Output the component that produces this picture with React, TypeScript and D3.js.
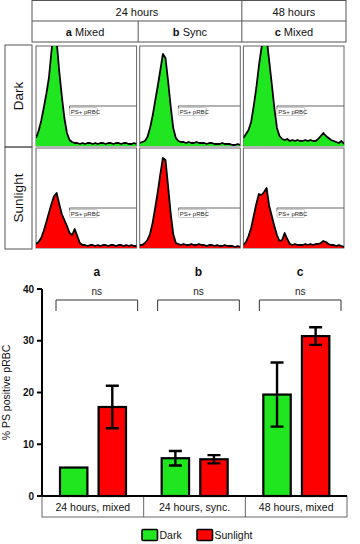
import React from 'react';
import * as d3 from 'd3';

const width = 360;
const height = 544;
const font = "'Liberation Sans', Arial, sans-serif";

// --- top panel: flow cytometry histograms ---
const timeHeaders = ['24 hours', '48 hours'];
const timeSpans = [[0, 1], [2, 2]];
const columnLetters = ['a', 'b', 'c'];
const columnNames = ['Mixed', 'Sync', 'Mixed'];
const rowNames = ['Dark', 'Sunlight'];

// counts per bin, % of panel height
const darkA = [8,15,25,38,52,68,95,115,105,75,50,28,13,6,4,3,3,2,3,2,3,3,2,3,2,3,3,2,3,3,2,3,3,2,3,3,2,2,3,2];
const darkB = [3,4,5,9,18,30,45,60,76,92,88,65,40,18,8,5,4,4,3,4,3,3,4,3,3,3,2,3,3,2,2,2,3,2,2,2,1,1,2,1];
const darkC = [8,12,16,24,40,58,80,98,110,108,85,62,38,18,10,7,6,7,5,6,5,6,5,5,6,5,6,5,5,7,10,13,10,8,6,5,4,3,5,2];
const sunA = [4,6,10,17,26,35,44,52,55,44,34,28,22,15,13,19,12,5,3,3,2,3,3,2,3,2,3,3,2,3,3,2,3,3,2,3,2,3,2,2];
const sunB = [3,3,5,8,14,25,40,56,74,90,88,62,35,14,5,4,3,4,3,3,4,3,3,4,3,3,2,3,3,2,3,2,2,3,2,2,2,1,2,1];
const sunC = [3,6,12,20,32,44,54,53,56,60,42,32,22,13,7,8,15,9,4,3,4,3,3,3,4,3,4,3,4,4,5,7,6,4,3,3,2,3,2,1];
const histRows = [[darkA, darkB, darkC], [sunA, sunB, sunC]];
const gateLabel = 'PS+ pRBC';
const gateLevel = 40;
const gateBin = [13, 15, 13];

// --- bottom panel: bar chart ---
const groups = ['24 hours, mixed', '24 hours, sync.', '48 hours, mixed'];
const groupLetters = ['a', 'b', 'c'];
const seriesNames = ['Dark', 'Sunlight'];
const darkMean = [5.5, 7.3, 19.6];
const darkErr = [0, 1.4, 6.2];
const sunMean = [17.2, 7.1, 30.9];
const sunErr = [4.1, 0.8, 1.7];
const sigLabels = ['ns', 'ns', 'ns'];
const yTicks = [0, 10, 20, 30, 40];
const yLabel = '% PS positive pRBC';

const green = '#1fe61f';
const red = '#f00';
const colors = [green, red];

export default function App() {
  // histogram grid
  const colBand = d3.scaleBand<number>().domain([0, 1, 2]).range([36, 344]).paddingInner(0.03);
  const rowBand = d3.scaleBand<number>().domain([0, 1]).range([46, 248]).paddingInner(0.02);
  const bw = colBand.bandwidth();
  const bh = rowBand.bandwidth();
  const divAB = (colBand(0)! + bw + colBand(1)!) / 2;
  const divBC = (colBand(1)! + bw + colBand(2)!) / 2;
  const headLeft = 32, headRight = 346;
  const colEdges = [headLeft, divAB, divBC, headRight];

  // bar chart
  const y = d3.scaleLinear().domain([0, 40]).range([496, 289]);
  const x0 = d3.scaleBand<string>().domain(groups).range([42, 347]);
  const x1 = d3.scaleBand<string>().domain(seriesNames).range([18, 84]).paddingInner(0.29);
  const means = [darkMean, sunMean];
  const errs = [darkErr, sunErr];

  return (
    <svg width={width} height={height} style={{ position: 'absolute', left: 0, top: 0, background: '#fff' }} fontFamily={font}>
      <defs>
        {histRows.map((row, r) => row.map((_, c) => (
          <clipPath id={`clip-${r}-${c}`} key={`${r}${c}`}>
            <rect x={colBand(c)} y={rowBand(r)} width={bw} height={bh} />
          </clipPath>
        )))}
      </defs>

      {/* header table */}
      <g stroke="#555" strokeWidth={1} fill="none">
        <rect x={headLeft} y={0.5} width={headRight - headLeft} height={41.5} />
        <line x1={headLeft} x2={headRight} y1={21} y2={21} />
        <line x1={divBC} x2={divBC} y1={0.5} y2={42} />
        <line x1={divAB} x2={divAB} y1={21} y2={42} />
      </g>
      {timeHeaders.map((t, i) => (
        <text key={t} x={(colEdges[timeSpans[i][0]] + colEdges[timeSpans[i][1] + 1]) / 2} y={15.5}
          fontSize={11} textAnchor="middle" fill="#111">{t}</text>
      ))}
      {columnNames.map((n, i) => (
        <text key={i} x={(colEdges[i] + colEdges[i + 1]) / 2} y={36} fontSize={11} textAnchor="middle" fill="#111">
          <tspan fontWeight="bold">{columnLetters[i]}</tspan> {n}
        </text>
      ))}

      {/* row labels */}
      {rowNames.map((n, r) => {
        const top = r === 0 ? 45 : rowBand(r)! - 1;
        const bottom = r === 0 ? rowBand(1)! - 1 : rowBand(r)! + bh + 1;
        return (
          <g key={n}>
            <rect x={5} y={top} width={27} height={bottom - top} fill="none" stroke="#555" />
            <text transform={`translate(23,${(top + bottom) / 2}) rotate(-90)`} fontSize={13.5} textAnchor="middle" fill="#111">{n}</text>
          </g>
        );
      })}

      {/* histograms */}
      {histRows.map((row, r) => row.map((vals, c) => {
        const hx = d3.scaleLinear().domain([0, vals.length - 1]).range([colBand(c)!, colBand(c)! + bw]);
        const hy = d3.scaleLinear().domain([0, 100]).range([rowBand(r)! + bh, rowBand(r)!]);
        const area = d3.area<number>().x((_, i) => hx(i)).y0(hy(0)).y1(d => hy(d)).curve(d3.curveLinear);
        const line = d3.line<number>().x((_, i) => hx(i)).y(d => hy(d)).curve(d3.curveLinear);
        const gx = hx(gateBin[c]);
        const gy = hy(gateLevel);
        return (
          <g key={`${r}-${c}`}>
            <rect x={colBand(c)} y={rowBand(r)} width={bw} height={bh} fill="#fff" stroke="#666" />
            <g clipPath={`url(#clip-${r}-${c})`}>
              <path d={area(vals)!} fill={colors[r]} />
              <path d={line(vals)!} fill="none" stroke="#000" strokeWidth={1.8} strokeLinejoin="round" />
            </g>
            <path d={`M${gx},${gy + 3}V${gy}H${colBand(c)! + bw}`} fill="none" stroke="#555" strokeWidth={0.9} />
            <rect x={gx} y={gy + 1.5} width={28} height={8} rx={1.5} fill="#fff" stroke="#aaa" strokeWidth={0.6} />
            <text x={gx + 1.3} y={gy + 7.8} fontSize={6} fill="#222">{gateLabel}</text>
          </g>
        );
      }))}

      {/* significance */}
      {groups.map((g, i) => {
        const b0 = x0(g)! + 14;
        const b1 = x0(g)! + x0.bandwidth() - 6;
        const mid = (b0 + b1) / 2;
        return (
          <g key={g}>
            <text x={mid} y={276} fontSize={12} fontWeight="bold" textAnchor="middle" fill="#111">{groupLetters[i]}</text>
            <text x={mid} y={295} fontSize={10} textAnchor="middle" fill="#222">{sigLabels[i]}</text>
            <path d={`M${b0},${311}V${300}H${b1}V${311}`} fill="none" stroke="#333" strokeWidth={1} />
          </g>
        );
      })}

      {/* bars */}
      {groups.map((g, i) => (
        <g key={g} transform={`translate(${x0(g)},0)`}>
          {seriesNames.map((s, k) => {
            const bx = x1(s)!;
            const bwid = x1.bandwidth();
            const m = means[k][i];
            const e = errs[k][i];
            const cx = bx + bwid / 2;
            return (
              <g key={s}>
                <rect x={bx} y={y(m)} width={bwid} height={y(0) - y(m)} fill={colors[k]} stroke="#000" strokeWidth={2.2} />
                {e > 0 && (
                  <path d={`M${cx},${y(m + e)}V${y(m - e)}M${cx - 6.5},${y(m + e)}H${cx + 6.5}M${cx - 6.5},${y(m - e)}H${cx + 6.5}`}
                    stroke="#000" strokeWidth={2.4} fill="none" />
                )}
              </g>
            );
          })}
        </g>
      ))}

      {/* y axis */}
      <line x1={42} x2={42} y1={y(40)} y2={y(0)} stroke="#000" strokeWidth={2} />
      {yTicks.map(t => (
        <g key={t}>
          <line x1={37} x2={42} y1={y(t)} y2={y(t)} stroke="#000" strokeWidth={2} />
          <text x={34} y={y(t) + 3.5} fontSize={10} fontWeight="bold" textAnchor="end" fill="#111">{t}</text>
        </g>
      ))}
      <text transform={`translate(10,${(y(40) + y(0)) / 2}) rotate(-90)`} fontSize={10.5} textAnchor="middle" fill="#111">{yLabel}</text>

      {/* category box */}
      <g stroke="#666" strokeWidth={1} fill="none">
        <rect x={42} y={y(0)} width={305} height={21} />
        {groups.slice(1).map(g => (
          <line key={g} x1={x0(g)} x2={x0(g)} y1={y(0)} y2={y(0) + 21} />
        ))}
      </g>
      <line x1={42} x2={347} y1={y(0)} y2={y(0)} stroke="#000" strokeWidth={2} />
      {groups.map(g => (
        <text key={g} x={x0(g)! + x0.bandwidth() / 2} y={y(0) + 14.5} fontSize={10.5} textAnchor="middle" fill="#111">{g}</text>
      ))}

      {/* legend */}
      {seriesNames.map((s, k) => {
        const lx = k === 0 ? 142 : 197;
        return (
          <g key={s}>
            <rect x={lx} y={529.5} width={15.5} height={11} rx={1} fill={colors[k]} stroke="#000" strokeWidth={1.6} />
            <text x={lx + 17.5} y={539} fontSize={10.5} fill="#111">{s}</text>
          </g>
        );
      })}
    </svg>
  );
}
